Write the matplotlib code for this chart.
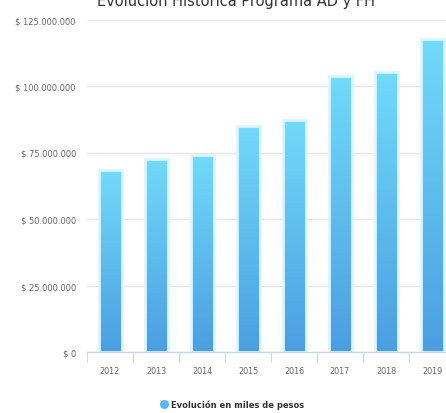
import matplotlib
matplotlib.use("Agg")
import matplotlib.pyplot as plt
import numpy as np
from matplotlib.colors import LinearSegmentedColormap
from matplotlib.lines import Line2D
from matplotlib.ticker import FuncFormatter, MultipleLocator, FixedLocator

years = ["2012", "2013", "2014", "2015", "2016", "2017", "2018", "2019"]
values = [68.4e6, 72.6e6, 73.9e6, 85.0e6, 87.2e6, 103.9e6, 105.3e6, 117.7e6]
title = "Evolución Histórica Programa AD y FH"
series_name = "Evolución en miles de pesos"

W, H = 446, 414
fig = plt.figure(figsize=(W / 100, H / 100), dpi=100)
ax = fig.add_axes([87 / W, (H - 353) / H, 368 / W, (353 - 20.5) / H])

cmap = LinearSegmentedColormap.from_list("g", ["#4b9fe1", "#72dafa"])
grad = np.linspace(0, 1, 256).reshape(-1, 1)

x = np.arange(len(years))
bw = 0.5
bars = ax.bar(x, values, width=bw, facecolor="none", edgecolor="#dbf5fd",
              linewidth=2.0, zorder=3)
for rect in bars:
    x0 = rect.get_x()
    h = rect.get_height()
    im = ax.imshow(grad, cmap=cmap, origin="lower", aspect="auto",
                   extent=[x0, x0 + rect.get_width(), 0, h], zorder=2,
                   interpolation="bilinear")
    im.set_clip_path(rect)

ax.set_xlim(-0.5, len(years) - 0.5)
ax.set_ylim(0, 125e6)

# grid
ax.yaxis.set_major_locator(MultipleLocator(25e6))
ax.grid(axis="y", color="#e6e6e6", linewidth=1.0, zorder=0)
ax.set_axisbelow(True)

def fmt(v, pos):
    if v == 0:
        return "$ 0"
    return "$ " + f"{int(round(v)):,}".replace(",", ".")

ax.yaxis.set_major_formatter(FuncFormatter(fmt))
ax.tick_params(axis="y", length=0, pad=8, labelsize=6, labelcolor="#666666")

ax.set_xticks(x)
ax.set_xticklabels(years)
ax.xaxis.set_minor_locator(FixedLocator(np.arange(-0.5, len(years), 1.0)))
ax.tick_params(axis="x", which="major", length=0, pad=10, labelsize=5.8,
               labelcolor="#666666")
ax.tick_params(axis="x", which="minor", length=7.2, width=0.8, color="#ccd6eb",
               direction="out")

for s in ["top", "right", "left"]:
    ax.spines[s].set_visible(False)
ax.spines["bottom"].set_color("#ccd6eb")
ax.spines["bottom"].set_linewidth(1.0)
ax.spines["bottom"].set_zorder(4)

fig.text(236 / W, (H - 6) / H, title, ha="center", va="baseline",
         fontsize=10.5, color="#333333")

handle = Line2D([], [], marker="o", linestyle="none", markersize=5.5,
                markerfacecolor="#5bb9ee", markeredgecolor="#5bb9ee")
fig.legend(handles=[handle], labels=[series_name], loc="center",
           bbox_to_anchor=(232 / W, (H - 405) / H), frameon=False,
           prop={"size": 6.0, "weight": "bold"}, labelcolor="#333333",
           handletextpad=0.3, handlelength=1.0, borderpad=0)

fig.savefig("out.png", dpi=100)
